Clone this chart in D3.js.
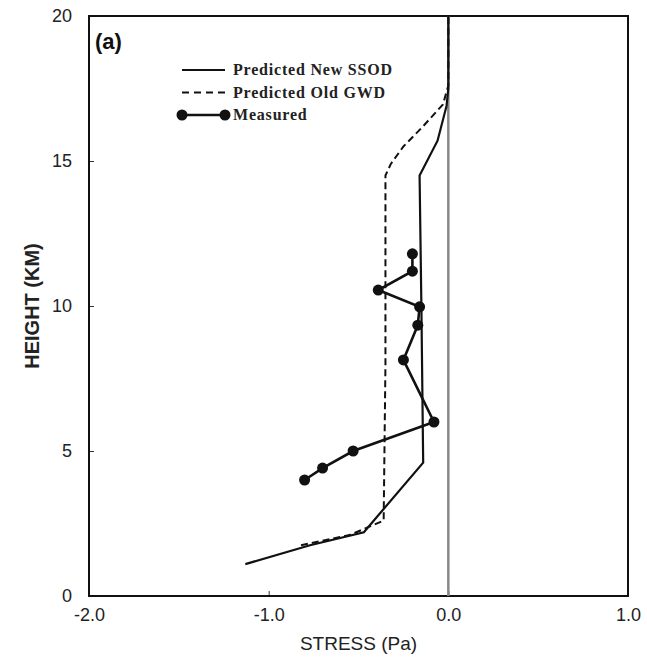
<!DOCTYPE html>
<html lang="en">
<head>
<meta charset="UTF-8">
<title>Stress profile (a)</title>
<style>
  body { margin: 0; background: #fff; }
  svg { display: block; }
  .tick text { font-family: Arial, 'Liberation Sans', sans-serif; font-size: 18px; fill: #222; }
</style>
</head>
<body>
<div id="chart"></div>
<script src="https://cdn.jsdelivr.net/npm/d3@7"></script>
<script>
// profiles: stress (Pa) vs height (km)
var newSsodStress = [-1.13, -0.77, -0.47, -0.14, -0.15, -0.16, -0.06, -0.01, 0.0, 0.0];
var newSsodHeight = [1.1, 1.75, 2.2, 4.6, 10.0, 14.5, 15.7, 16.9, 17.5, 20.0];

var oldGwdStress = [-0.82, -0.55, -0.36, -0.35, -0.35, -0.32, -0.25, -0.14, -0.03, 0.0, 0.0];
var oldGwdHeight = [1.75, 2.1, 2.6, 8.0, 14.5, 14.9, 15.5, 16.2, 16.95, 17.6, 20.0];

var measStress = [-0.2, -0.2, -0.39, -0.16, -0.17, -0.25, -0.08, -0.53, -0.7, -0.8];
var measHeight = [11.8, 11.2, 10.55, 9.97, 9.34, 8.14, 6.0, 5.0, 4.41, 4.0];

var xTicks = [-2, -1, 0, 1];
var yTicks = [0, 5, 10, 15, 20];

var legendLabels = ['Predicted New SSOD', 'Predicted Old GWD', 'Measured'];

var W = 647, H = 657;
var margin = { left: 89, right: 19, top: 16, bottom: 61 };

var svg = d3.select('#chart').append('svg').attr('width', W).attr('height', H);

var x = d3.scaleLinear().domain([-2, 1]).range([margin.left, W - margin.right]);
var y = d3.scaleLinear().domain([0, 20]).range([H - margin.bottom, margin.top]);

var fmtX = function (d) { return d3.format('.1f')(d).replace('\u2212', '-'); };

// axes: small inward ticks, frame drawn separately
svg.append('g')
  .attr('transform', 'translate(0,' + (H - margin.bottom) + ')')
  .call(d3.axisBottom(x).tickValues(xTicks).tickFormat(fmtX).tickSizeInner(-5).tickSizeOuter(0).tickPadding(12))
  .call(function (g) { g.select('.domain').remove(); g.selectAll('.tick line').attr('stroke', '#333'); });

svg.append('g')
  .attr('transform', 'translate(' + margin.left + ',0)')
  .call(d3.axisLeft(y).tickValues(yTicks).tickSizeInner(-5).tickSizeOuter(0).tickPadding(17))
  .call(function (g) { g.select('.domain').remove(); g.selectAll('.tick line').attr('stroke', '#333'); });

// frame
svg.append('rect')
  .attr('x', x(-2)).attr('y', y(20))
  .attr('width', x(1) - x(-2)).attr('height', y(0) - y(20))
  .attr('fill', 'none').attr('stroke', '#111').attr('stroke-width', 2);

// zero line
svg.append('line')
  .attr('x1', x(0)).attr('x2', x(0)).attr('y1', y(20)).attr('y2', y(0))
  .attr('stroke', '#888').attr('stroke-width', 2.5);

var line = d3.line().x(function (d) { return x(d[0]); }).y(function (d) { return y(d[1]); });

var newSsod = d3.zip(newSsodStress, newSsodHeight);
var oldGwd = d3.zip(oldGwdStress, oldGwdHeight);
var meas = d3.zip(measStress, measHeight);

svg.append('path').datum(oldGwd).attr('d', line)
  .attr('fill', 'none').attr('stroke', '#111').attr('stroke-width', 2)
  .attr('stroke-dasharray', '7,4');

svg.append('path').datum(newSsod).attr('d', line)
  .attr('fill', 'none').attr('stroke', '#111').attr('stroke-width', 2.2);

svg.append('path').datum(meas).attr('d', line)
  .attr('fill', 'none').attr('stroke', '#111').attr('stroke-width', 2.6);

svg.selectAll('circle.meas').data(meas).enter().append('circle')
  .attr('class', 'meas')
  .attr('cx', function (d) { return x(d[0]); })
  .attr('cy', function (d) { return y(d[1]); })
  .attr('r', 5.5).attr('fill', '#111');

// panel label
svg.append('text').attr('x', 95).attr('y', 49)
  .style('font-family', 'Arial, sans-serif').style('font-weight', 'bold').style('font-size', '22px')
  .attr('fill', '#111').text('(a)');

// legend
var lg = svg.append('g').attr('transform', 'translate(182,70)');
var rows = lg.selectAll('g').data(legendLabels).enter().append('g')
  .attr('transform', function (d, i) { return 'translate(0,' + (i * 22.5) + ')'; });

rows.append('line').attr('x1', 0).attr('x2', 43).attr('y1', 0).attr('y2', 0)
  .attr('stroke', '#111')
  .attr('stroke-width', function (d, i) { return i === 2 ? 2.6 : 2; })
  .attr('stroke-dasharray', function (d, i) { return i === 1 ? '7,5' : null; });

rows.filter(function (d, i) { return i === 2; }).selectAll('circle')
  .data([0, 43]).enter().append('circle')
  .attr('cx', function (d) { return d; }).attr('cy', 0).attr('r', 5.5).attr('fill', '#111');

rows.append('text').attr('x', 51).attr('y', 5)
  .style('font-family', "'Liberation Serif', 'DejaVu Serif', serif")
  .style('font-weight', 'bold').style('font-size', '16px').style('letter-spacing', '0.8px')
  .attr('fill', '#222').text(function (d) { return d; });

// axis titles
svg.append('text').attr('x', (x(-2) + x(1)) / 2).attr('y', 650)
  .attr('text-anchor', 'middle')
  .style('font-family', 'Arial, sans-serif').style('font-size', '19px')
  .attr('fill', '#222').text('STRESS (Pa)');

svg.append('text')
  .attr('transform', 'translate(39,' + ((y(0) + y(20)) / 2) + ') rotate(-90)')
  .attr('text-anchor', 'middle')
  .style('font-family', 'Arial, sans-serif').style('font-weight', 'bold').style('font-size', '20px')
  .attr('fill', '#222').text('HEIGHT (KM)');
</script>
</body>
</html>
